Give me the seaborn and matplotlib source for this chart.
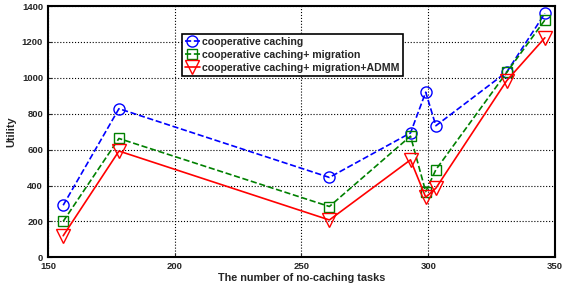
import numpy as np
import pandas as pd
import matplotlib
matplotlib.use("Agg")
import matplotlib.pyplot as plt
import seaborn as sns

####
#data
####

tasks = [156, 178, 261, 293, 299, 303, 331, 346]
coop = [290, 828, 445, 693, 920, 733, 1033, 1359]
coop_mig = [200, 662, 283, 675, 366, 488, 1031, 1322]
coop_mig_admm = [120, 592, 208, 543, 335, 385, 985, 1223]

labels = ["cooperative caching",
          "cooperative caching+ migration",
          "cooperative caching+ migration+ADMM"]

####
#plot
####

sns.set_style("ticks")
plt.rcParams['font.family'] = ['Liberation Sans', 'DejaVu Sans']
plt.rcParams['font.weight'] = 'bold'

fig = plt.figure(figsize=(5.71, 2.87), dpi=100)
ax = fig.add_axes([0.084, 0.1035, 0.888, 0.8755])

styles = [
    (coop, "#0000ff", "--", "o", 8),
    (coop_mig, "#008000", "--", "s", 7),
    (coop_mig_admm, "#ff0000", "-", "v", 9.5),
]
for (vals, col, ls, mk, ms), lab in zip(styles, labels):
    df = pd.DataFrame({"tasks": tasks, "utility": vals})
    sns.lineplot(data=df, x="tasks", y="utility", ax=ax, color=col,
                 linestyle=ls, marker=mk, markersize=ms, mfc="none",
                 mec=col, mew=1.0, lw=1.2, sort=False, label=lab)

ax.set_xlim(150, 350)
ax.set_ylim(0, 1400)
ax.set_xticks([150, 200, 250, 300, 350])
ax.set_yticks(np.arange(0, 1401, 200))
ax.grid(True, color="black", linestyle=":", linewidth=0.8)
ax.tick_params(direction="in", labelsize=6.8, length=3, width=0.8)
for s in ax.spines.values():
    s.set_linewidth(1.5)
    s.set_color("black")
ax.set_xlabel("The number of no-caching tasks", fontsize=7.8, fontweight="bold", labelpad=1)
ax.set_ylabel("Utility", fontsize=7.8, fontweight="bold", labelpad=4)

leg = ax.legend(loc="upper left", bbox_to_anchor=(0.264, 0.89), borderaxespad=0,
                handlelength=1.4, handletextpad=0.2, borderpad=0.3,
                labelspacing=0.3, fancybox=False, framealpha=1,
                edgecolor="black", prop={"weight": "bold", "size": 7.6})
leg.get_frame().set_linewidth(1.2)

plt.savefig("out.png", dpi=100)
plt.close()
